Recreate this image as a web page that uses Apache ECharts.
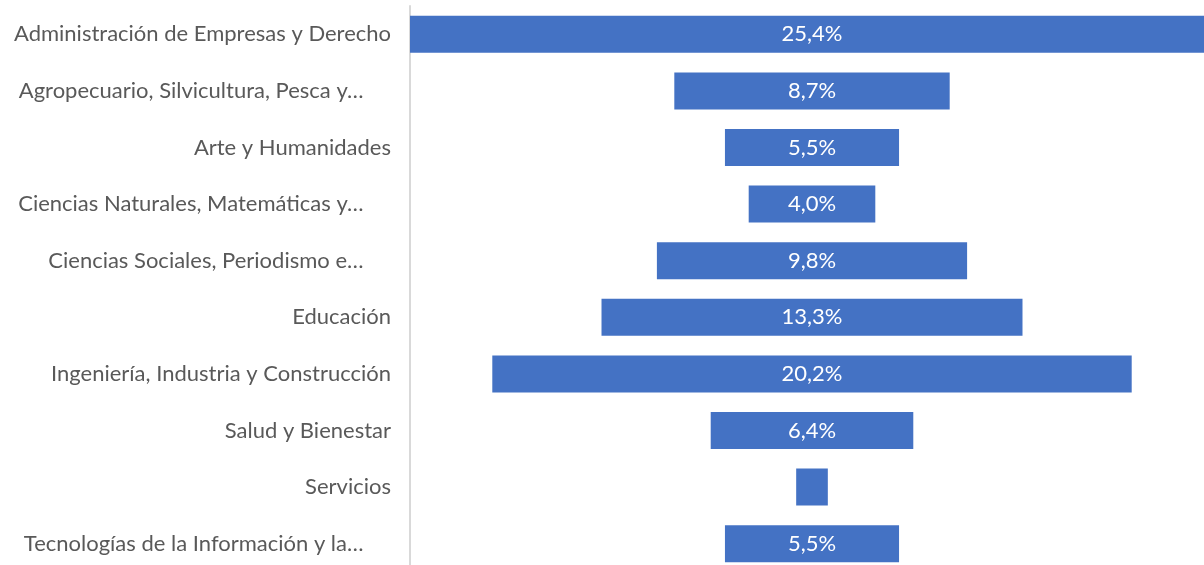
<!DOCTYPE html>
<html><head><meta charset="utf-8">
<script src="https://cdn.jsdelivr.net/npm/echarts@6/dist/echarts.min.js"></script>
<style>html,body{margin:0;padding:0;background:#fff;overflow:hidden}#c{width:1214px;height:580px}</style>
</head><body><div id="c"></div>
<script>
const categories = [
  "Administración de Empresas y Derecho",
  "Agropecuario, Silvicultura, Pesca y…",
  "Arte y Humanidades",
  "Ciencias Naturales, Matemáticas y…",
  "Ciencias Sociales, Periodismo e…",
  "Educación",
  "Ingeniería, Industria y Construcción",
  "Salud y Bienestar",
  "Servicios",
  "Tecnologías de la Información y la…"
];
const values = [25.4, 8.7, 5.5, 4.0, 9.8, 13.3, 20.2, 6.4, 1.0, 5.5];
const maxVal = Math.max(...values);
const offsets = values.map(v => (maxVal - v) / 2);

const chart = echarts.init(document.getElementById('c'));
chart.setOption({
  animation: false,
  grid: { left: 410, right: 0, top: 6, height: 566, containLabel: false },
  xAxis: { type: 'value', min: 0, max: maxVal, show: false },
  yAxis: {
    type: 'category', data: categories, inverse: true,
    axisLine: { show: true, lineStyle: { color: '#d9d9d9', width: 2 } },
    axisTick: { show: false },
    axisLabel: {
      color: '#595959', fontSize: 22, fontFamily: 'Lato', margin: 19,
      formatter: s => s.endsWith('…') ? s + '\u2003\u2002' : s
    }
  },
  series: [
    { type: 'bar', stack: 's', data: offsets, itemStyle: { color: 'transparent' }, barWidth: 37, silent: true },
    { type: 'bar', stack: 's', data: values, barWidth: 37,
      itemStyle: { color: '#4472C4' },
      label: { show: true, position: 'inside', color: '#fff', fontSize: 22, fontFamily: 'Lato',
        formatter: p => p.value < 2 ? '' : p.value.toFixed(1).replace('.', ',') + '%' } }
  ]
});
</script></body></html>
